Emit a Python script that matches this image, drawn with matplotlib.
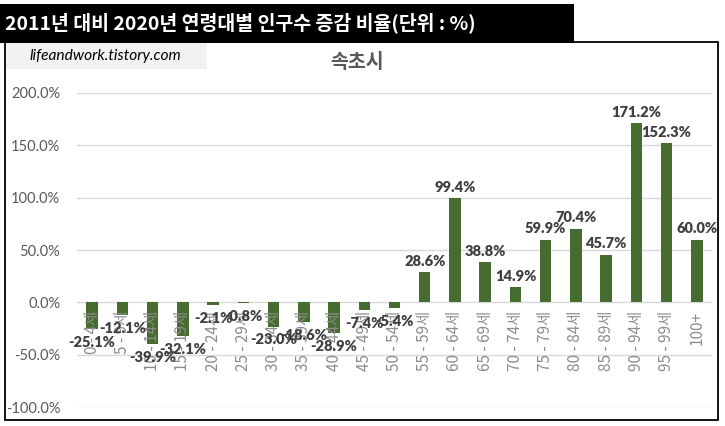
import matplotlib
matplotlib.use("Agg")
import matplotlib.pyplot as plt
from matplotlib.patches import Rectangle

plt.rcParams['font.family'] = ['Noto Sans CJK KR', 'DejaVu Sans']

categories = ["0 - 4세", "5 - 9세", "10 - 14세", "15 - 19세", "20 - 24세", "25 - 29세",
              "30 - 34세", "35 - 39세", "40 - 44세", "45 - 49세", "50 - 54세", "55 - 59세",
              "60 - 64세", "65 - 69세", "70 - 74세", "75 - 79세", "80 - 84세", "85 - 89세",
              "90 - 94세", "95 - 99세", "100+"]
values = [-25.1, -12.1, -39.9, -32.1, -2.1, -0.8, -23.0, -18.6, -28.9, -7.4, -5.4,
          28.6, 99.4, 38.8, 14.9, 59.9, 70.4, 45.7, 171.2, 152.3, 60.0]
yticks = [-100, -50, 0, 50, 100, 150, 200]
title = "2011년 대비 2020년 연령대별 인구수 증감 비율(단위 : %)"
subtitle = "속초시"
watermark = "lifeandwork.tistory.com"

W, H = 725, 426
fig = plt.figure(figsize=(W / 100, H / 100), dpi=100)

def fx(x):
    return x / W

def fy(y):
    return 1 - y / H

# frame and boxes
fig.patches.append(Rectangle((fx(5), fy(420)), fx(718) - fx(5), fy(42) - fy(420),
                             transform=fig.transFigure, fill=False, ec='black', lw=1.3, zorder=0))
fig.patches.append(Rectangle((fx(0), fy(43)), fx(574), fy(4) - fy(43),
                             transform=fig.transFigure, fc='black', ec='none', zorder=1))
fig.patches.append(Rectangle((fx(6), fy(69)), fx(207) - fx(6), fy(43) - fy(69),
                             transform=fig.transFigure, fc='#f2f2f2', ec='none', zorder=1))

fig.text(fx(5), fy(23), title, color='white', fontsize=14, fontweight='bold',
         ha='left', va='center', zorder=3)
fig.text(fx(30), fy(56), watermark, color='black', fontsize=11.2, style='italic',
         family=['Lato', 'DejaVu Sans'], ha='left', va='center', zorder=3)
fig.text(fx(357), fy(63), subtitle, color='#595959', fontsize=14, fontweight='bold',
         ha='center', va='center', zorder=3)

ax = fig.add_axes([fx(77), fy(407.3), fx(712) - fx(77), fy(92.7) - fy(407.3)])
x = list(range(len(categories)))
ax.bar(x, values, width=0.38, color='#466d2f', zorder=2)
ax.set_xlim(-0.5, len(categories) - 0.5)
ax.set_ylim(-100, 200)
ax.set_yticks(yticks)
ax.set_yticklabels([f"{v:.1f}%" for v in yticks], color='#595959', fontsize=10.5,
                   family=['Lato', 'DejaVu Sans'])
ax.tick_params(axis='y', length=0, pad=12)
ax.set_xticks([])
ax.grid(axis='y', color='#d9d9d9', lw=1, zorder=0)
for s in ax.spines.values():
    s.set_visible(False)
ax.set_facecolor('none')

for i, (c, v) in enumerate(zip(categories, values)):
    ax.annotate(c, (i, 0), xytext=(0, -6), textcoords='offset points', rotation=90,
                ha='center', va='top', color='#8c8c8c', fontsize=11, zorder=3)
    if v >= 0:
        ax.annotate(f"{v:.1f}%", (i, v), xytext=(0, 3), textcoords='offset points',
                    ha='center', va='bottom', color='#404040', fontsize=10.5,
                    fontweight='heavy', family=['Lato', 'DejaVu Sans'], zorder=4)
    else:
        ax.annotate(f"{v:.1f}%", (i, v), xytext=(0, -5), textcoords='offset points',
                    ha='center', va='top', color='#404040', fontsize=10.5,
                    fontweight='heavy', family=['Lato', 'DejaVu Sans'], zorder=4)

fig.savefig("out.png", dpi=100)
